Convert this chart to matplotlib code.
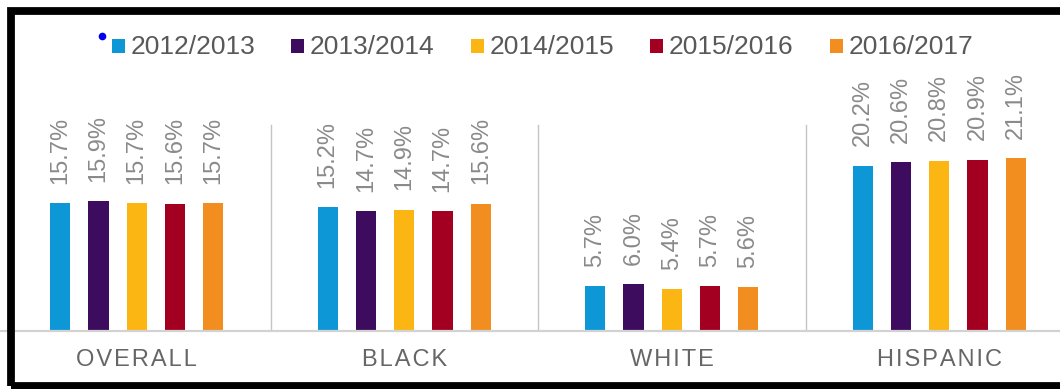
import matplotlib
matplotlib.use("Agg")
import matplotlib.pyplot as plt
from matplotlib.patches import Rectangle
from matplotlib.lines import Line2D
import numpy as np

categories = ["OVERALL", "BLACK", "WHITE", "HISPANIC"]
years = ["2012/2013", "2013/2014", "2014/2015", "2015/2016", "2016/2017"]
v_2012 = [15.7, 15.2, 5.7, 20.2]
v_2013 = [15.9, 14.7, 6.0, 20.6]
v_2014 = [15.7, 14.9, 5.4, 20.8]
v_2015 = [15.6, 14.7, 5.7, 20.9]
v_2016 = [15.7, 15.6, 5.6, 21.1]
series = [v_2012, v_2013, v_2014, v_2015, v_2016]
colors = ["#0e97d6", "#3d0c5e", "#fcb614", "#a30021", "#f28d1f"]

W, H = 1060, 389
fig = plt.figure(figsize=(W / 100, H / 100), dpi=100)
fig.patch.set_facecolor("white")

FAM = ["Liberation Sans", "DejaVu Sans"]

def fx(px):
    return px / W

def fy(py_top):
    return (H - py_top) / H

base_px = 331
ax = fig.add_axes([0, fy(base_px), 1, base_px / H])
ppu = 8.34
y0 = 0.36
ax.set_ylim(y0, y0 + base_px / ppu)
cat_w = 267.5
ax.set_xlim(-0.5 - 3 / cat_w, -0.5 + (W - 3) / cat_w)

x = np.arange(len(categories))
step = 0.143
bw = 0.075
for j, (vals, c) in enumerate(zip(series, colors)):
    xs = x + (j - 2) * step
    ax.bar(xs, vals, width=bw, color=c, bottom=0, zorder=2)
    for xi, v in zip(xs, vals):
        ax.annotate(f"{v:.1f}%", (xi, v), xytext=(0, 14), textcoords="offset points",
                    rotation=90, ha="center", va="bottom", fontsize=17,
                    color="#8a8a8a", family=FAM)

for s in ["top", "left", "right"]:
    ax.spines[s].set_visible(False)
ax.spines["bottom"].set_color("#d2d2d2")
ax.spines["bottom"].set_linewidth(1.6)
ax.set_yticks([])
ax.set_facecolor("none")

sep_top = (base_px - 125) / base_px
for b in [0.5, 1.5, 2.5]:
    ax.axvline(b, ymin=0, ymax=sep_top, color="#c4c4c4", lw=1.0, zorder=1)

spaced = ["\u200a".join(list(c)) for c in categories]
ax.set_xticks(x)
ax.set_xticklabels(spaced, fontsize=17, color="#666666", family=FAM)
ax.tick_params(axis="x", length=0, pad=13)

# legend (manual)
sq_start = [111.5 + 179.5 * i for i in range(5)]
for sx, c, lab in zip(sq_start, colors, years):
    fig.add_artist(Rectangle((fx(sx), fy(53)), 13 / W, 14 / H, transform=fig.transFigure,
                             facecolor=c, edgecolor="none"))
    fig.text(fx(sx + 19), fy(54), lab, fontsize=19, color="#595959", family=FAM,
             ha="left", va="baseline")

fig.add_artist(Line2D([fx(101.5)], [fy(36)], transform=fig.transFigure, marker="o",
                      markersize=5.5, markerfacecolor="#0000ee", markeredgecolor="none",
                      linestyle="none"))

# outer black frame
fig.add_artist(Rectangle((fx(10.5), fy(386)), (1200 - 10.5) / W, (386 - 11) / H,
                         transform=fig.transFigure, facecolor="none",
                         edgecolor="black", linewidth=5.6, zorder=10))

fig.savefig("out.png", dpi=100, facecolor="white")
